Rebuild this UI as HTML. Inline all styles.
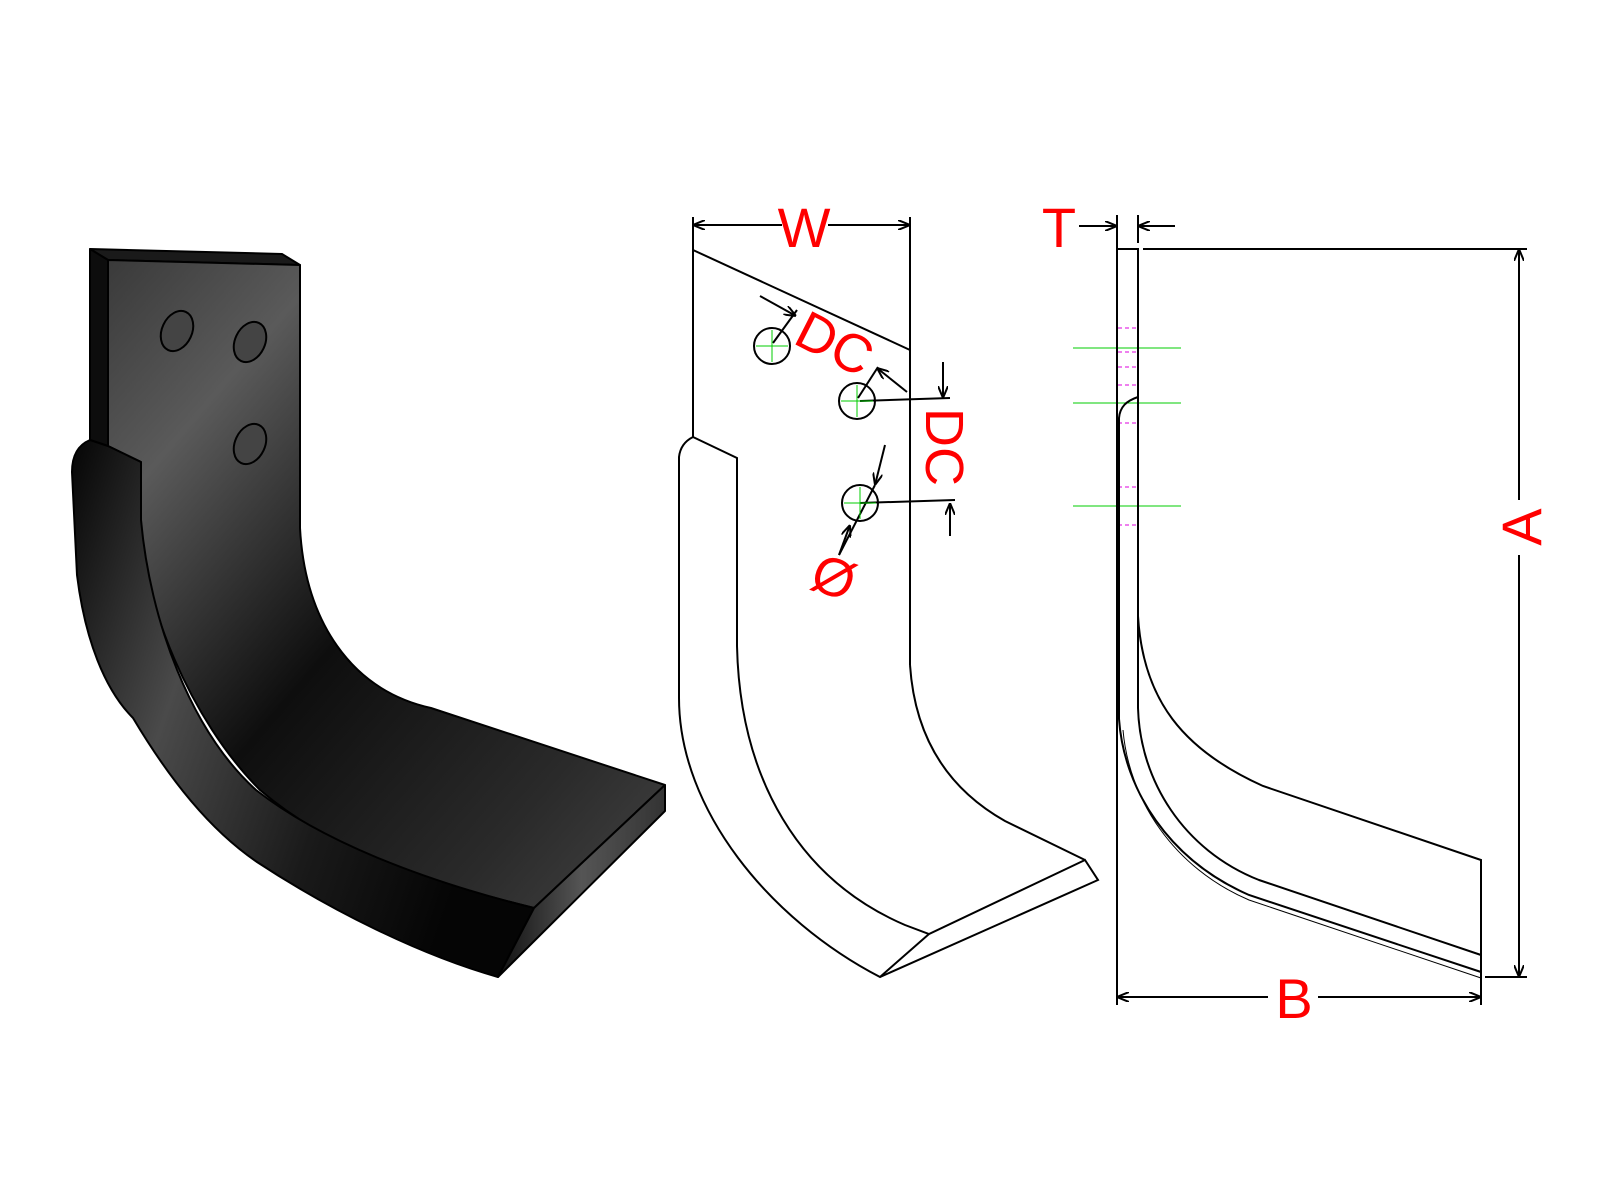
<!DOCTYPE html>
<html><head><meta charset="utf-8"><style>
html,body{margin:0;padding:0;background:#fff}
svg{display:block}
text{font-family:"Liberation Sans",sans-serif;fill:#f00}
</style></head><body>
<svg width="1600" height="1200" viewBox="0 0 1600 1200" xmlns="http://www.w3.org/2000/svg">
<defs>
<linearGradient id="g1" x1="0" y1="0" x2="1" y2="1">
<stop offset="0" stop-color="#3a3a3a"/><stop offset="0.2" stop-color="#5a5a5a"/><stop offset="0.5" stop-color="#0e0e0e"/><stop offset="0.8" stop-color="#2a2a2a"/><stop offset="1" stop-color="#444"/>
</linearGradient>
<linearGradient id="g2" x1="0" y1="0" x2="1" y2="0.4">
<stop offset="0" stop-color="#050505"/><stop offset="0.35" stop-color="#4a4a4a"/><stop offset="0.7" stop-color="#1a1a1a"/><stop offset="1" stop-color="#050505"/>
</linearGradient>
<linearGradient id="g3" x1="0" y1="0" x2="1" y2="0">
<stop offset="0" stop-color="#111"/><stop offset="0.5" stop-color="#555"/><stop offset="1" stop-color="#333"/>
</linearGradient>
<marker id="ar" viewBox="0 0 12 10" refX="12" refY="5" markerWidth="12" markerHeight="10" markerUnits="userSpaceOnUse" orient="auto">
<path d="M0,0 L12,5 L0,10" fill="none" stroke="#000" stroke-width="2"/>
</marker>
</defs>

<!-- 3D blade -->
<g stroke="#000" stroke-width="2" stroke-linejoin="round">
<polygon points="90,249 282,254 300,265 108,260" fill="#1a1a1a"/>
<polygon points="90,249 108,260 108,446 90,440" fill="#0d0d0d"/>
<path d="M108,260 L300,265 L300,528 C305,620 350,690 431,708 L665,785 L534,908 C420,880 330,850 260,790 C190,720 141,600 141,520 L141,462 L108,446 Z" fill="url(#g1)"/>
<path d="M90,440 C78,445 72,455 72,472 L77,575 C85,640 105,690 133,718 C170,780 210,830 257,862 C330,910 420,955 498,977 L534,908 C420,880 320,840 256,790 C190,730 150,620 141,520 L141,462 L108,446 Z" fill="url(#g2)"/>
<polygon points="665,785 665,811 498,977 534,908" fill="url(#g3)"/>
<ellipse cx="177" cy="331" rx="15" ry="21" transform="rotate(25 177 331)" fill="#444"/>
<ellipse cx="250" cy="342" rx="15" ry="21" transform="rotate(25 250 342)" fill="#444"/>
<ellipse cx="250" cy="444" rx="15" ry="21" transform="rotate(25 250 444)" fill="#444"/>
</g>

<!-- middle drawing -->
<g fill="none" stroke="#000" stroke-width="2">
<line x1="693" y1="217" x2="693" y2="437"/>
<line x1="910" y1="217" x2="910" y2="665"/>
<line x1="693" y1="250" x2="910" y2="350"/>
<line x1="782" y1="225" x2="693" y2="225" marker-end="url(#ar)"/><line x1="828" y1="225" x2="910" y2="225" marker-end="url(#ar)"/>
<path d="M693,437 L737,458 L737,646 C740,780 800,880 905,925 L929,934 L1085,860 L1098,880 L880,977 C770,920 679,810 679,698 L679,457 C680,448 685,441 693,437"/>
<path d="M880,977 L929,934"/>
<path d="M910,665 C915,740 950,790 1005,821 L1085,860"/>
<circle cx="772" cy="346" r="18"/><circle cx="857" cy="401" r="18"/><circle cx="860" cy="503" r="18"/>
<line x1="760" y1="296" x2="796" y2="316" marker-end="url(#ar)"/><line x1="797" y1="310" x2="773" y2="343"/>
<line x1="907" y1="392" x2="877" y2="368" marker-end="url(#ar)"/><line x1="878" y1="367" x2="858" y2="398"/>
<line x1="860" y1="401" x2="950" y2="398"/><line x1="943" y1="362" x2="943" y2="398" marker-end="url(#ar)"/>
<line x1="860" y1="503" x2="955" y2="500"/><line x1="950" y1="536" x2="950" y2="503" marker-end="url(#ar)"/>
<line x1="885" y1="445" x2="875" y2="485" marker-end="url(#ar)"/>
<line x1="875" y1="485" x2="839" y2="555"/>
<line x1="839" y1="555" x2="850" y2="525" marker-end="url(#ar)"/>
</g>
<g stroke="#0c0" stroke-width="1">
<line x1="772" y1="330" x2="772" y2="362"/><line x1="756" y1="346" x2="788" y2="346"/>
<line x1="857" y1="385" x2="857" y2="417"/><line x1="841" y1="401" x2="873" y2="401"/>
<line x1="860" y1="487" x2="860" y2="519"/><line x1="844" y1="503" x2="876" y2="503"/>
</g>
<text x="804" y="247" font-size="56" text-anchor="middle">W</text>
<text x="834" y="362" font-size="54" text-anchor="middle" transform="rotate(27 834 345)">DC</text>
<text x="945" y="466" font-size="54" text-anchor="middle" transform="rotate(90 945 447)">DC</text>
<text x="834" y="596" font-size="54" text-anchor="middle" transform="rotate(20 834 577)">Ø</text>

<!-- right drawing -->
<g transform="translate(-7,0)">
<g stroke="#0c0" stroke-width="1">
<line x1="1080" y1="348" x2="1188" y2="348"/><line x1="1080" y1="403" x2="1188" y2="403"/><line x1="1080" y1="506" x2="1188" y2="506"/>
</g>
<g stroke="#d0d" stroke-width="1" stroke-dasharray="4,3">
<line x1="1125" y1="328" x2="1145" y2="328"/><line x1="1125" y1="352" x2="1145" y2="352"/><line x1="1125" y1="367" x2="1145" y2="367"/><line x1="1125" y1="385" x2="1145" y2="385"/><line x1="1125" y1="423" x2="1145" y2="423"/><line x1="1125" y1="487" x2="1145" y2="487"/><line x1="1125" y1="525" x2="1145" y2="525"/>
</g>
<g fill="none" stroke="#000" stroke-width="2">
<line x1="1124" y1="215" x2="1124" y2="1005"/>
<line x1="1145" y1="215" x2="1145" y2="243"/>
<polyline points="1124,249 1145,249 1145,616"/>
<line x1="1150" y1="249" x2="1534" y2="249"/>
<line x1="1086" y1="226" x2="1124" y2="226" marker-end="url(#ar)"/><line x1="1182" y1="226" x2="1145" y2="226" marker-end="url(#ar)"/>
<path d="M1145,616 C1150,700 1190,750 1270,786 L1488,860 L1488,1005"/>
<path d="M1145,397 C1133,401 1127,407 1126,418 L1126,719 C1131,790 1176,860 1256,895 L1488,972"/>
<path d="M1145,616 L1145,708 C1147,780 1190,850 1266,880 L1488,955"/>
<path d="M1130,730 C1136,800 1181,868 1256,900 L1488,978" stroke-width="1"/>
<line x1="1492" y1="977" x2="1534" y2="977"/>
<line x1="1526" y1="500" x2="1526" y2="249" marker-end="url(#ar)"/><line x1="1526" y1="555" x2="1526" y2="977" marker-end="url(#ar)"/>
<line x1="1275" y1="997" x2="1124" y2="997" marker-end="url(#ar)"/><line x1="1325" y1="997" x2="1488" y2="997" marker-end="url(#ar)"/>
</g>
<text x="1066" y="247" font-size="56" text-anchor="middle">T</text>
<text x="1301" y="1018" font-size="56" text-anchor="middle">B</text>
<text x="1528" y="547" font-size="56" text-anchor="middle" transform="rotate(-90 1528 527)">A</text>
</g>
</svg>
</body></html>
